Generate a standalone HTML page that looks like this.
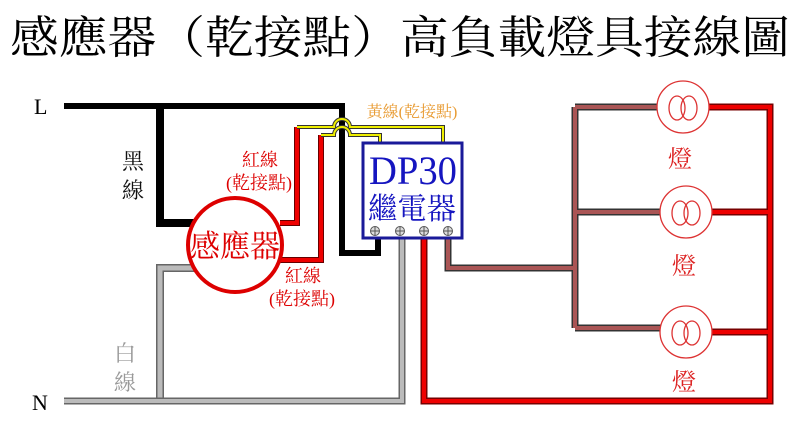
<!DOCTYPE html>
<html><head><meta charset="utf-8"><style>
html,body{margin:0;padding:0;background:#fff;}
svg{display:block;}
text{font-family:"Liberation Serif","Noto Serif CJK SC","Noto Sans CJK TC",serif;}
</style></head><body>
<svg width="800" height="424" viewBox="0 0 800 424" xmlns="http://www.w3.org/2000/svg">
<rect width="800" height="424" fill="#fff"/>
<text x="400" y="53" font-size="45" text-anchor="middle" textLength="780" lengthAdjust="spacingAndGlyphs" fill="#000">感應器（乾接點）高負載燈具接線圖</text>

<text x="34" y="114" font-size="22" fill="#000">L</text>
<text x="32" y="410" font-size="22" fill="#000">N</text>

<g fill="none" stroke-linejoin="miter">
<path d="M195,268 H160 V401" stroke="#666" stroke-width="8"/>
<path d="M195,268 H160 V401" stroke="#bbb" stroke-width="5"/>
<path d="M64,401 H402 V238" stroke="#666" stroke-width="7"/>
<path d="M64,401 H402 V238" stroke="#bbb" stroke-width="4"/>
<path d="M64,106 H342 V253 H378 V238" stroke="#000" stroke-width="6"/>
<path d="M160,106 V223 H200" stroke="#000" stroke-width="8"/>
<path d="M280,223 H297 V127" stroke="#600" stroke-width="6"/>
<path d="M280,223 H297 V127" stroke="#e00" stroke-width="4"/>
<path d="M278,260 H321 V135" stroke="#600" stroke-width="6"/>
<path d="M278,260 H321 V135" stroke="#e00" stroke-width="4"/>
<path d="M297,127 H334 A8,8 0 0 1 350,127 H443 V142" stroke="#333" stroke-width="4"/>
<path d="M297,127 H334 A8,8 0 0 1 350,127 H443 V142" stroke="#ee0" stroke-width="2"/>
<path d="M321,135 H334 A8,8 0 0 1 350,135 H380 V142" stroke="#333" stroke-width="4"/>
<path d="M321,135 H334 A8,8 0 0 1 350,135 H380 V142" stroke="#ee0" stroke-width="2"/>
<path d="M424,238 V401 H770 V107 H708 M770,212 H711 M770,332 H711" stroke="#700" stroke-width="7"/>
<path d="M424,238 V401 H770 V107 H708 M770,212 H711 M770,332 H711" stroke="#e00" stroke-width="4"/>
<path d="M448,238 V268 H575 M575,107 V328 M575,107 H658 M575,212 H661 M575,328 H661" stroke="#333" stroke-width="7"/>
<path d="M448,238 V268 H575 M575,107 V328 M575,107 H658 M575,212 H661 M575,328 H661" stroke="#a55" stroke-width="4"/>
</g>

<circle cx="235" cy="245" r="47" fill="#fff" stroke="#d00" stroke-width="4"/>
<text x="235" y="257" font-size="31" text-anchor="middle" fill="#d00" textLength="90" lengthAdjust="spacingAndGlyphs">感應器</text>

<rect x="363" y="143" width="99" height="95" fill="#fff" stroke="#1a1a99" stroke-width="3"/>
<text x="413" y="184" font-size="40" text-anchor="middle" fill="#1515c0" textLength="88" lengthAdjust="spacingAndGlyphs">DP30</text>
<text x="412" y="219" font-size="30" text-anchor="middle" fill="#1515c0" textLength="88" lengthAdjust="spacingAndGlyphs">繼電器</text>
<g stroke="#555" stroke-width="1" fill="#ddd">
<circle cx="375" cy="231" r="4.5"/><circle cx="400" cy="231" r="4.5"/><circle cx="424" cy="231" r="4.5"/><circle cx="448" cy="231" r="4.5"/>
<path d="M370.5,231h9M375,226.5v9M395.5,231h9M400,226.5v9M419.5,231h9M424,226.5v9M443.5,231h9M448,226.5v9" fill="none"/>
</g>

<g fill="#fff" stroke="#d33" stroke-width="1.3">
<circle cx="683" cy="107" r="26"/>
<ellipse cx="677" cy="108" rx="8" ry="12" fill="none"/><ellipse cx="689" cy="108" rx="8" ry="12" fill="none"/>
<circle cx="686" cy="212" r="26"/>
<ellipse cx="680" cy="213" rx="8" ry="12" fill="none"/><ellipse cx="692" cy="213" rx="8" ry="12" fill="none"/>
<circle cx="686" cy="332" r="26"/>
<ellipse cx="680" cy="333" rx="8" ry="12" fill="none"/><ellipse cx="692" cy="333" rx="8" ry="12" fill="none"/>
</g>
<g font-size="24" fill="#d22" text-anchor="middle">
<text x="680" y="167">燈</text>
<text x="684" y="274">燈</text>
<text x="684" y="390">燈</text>
</g>

<g font-size="22" fill="#111" text-anchor="middle"><text x="133" y="169">黑</text><text x="133" y="198">線</text></g>
<g font-size="22" fill="#999" text-anchor="middle"><text x="125" y="361">白</text><text x="125" y="390">線</text></g>
<g font-size="18" fill="#d00" text-anchor="middle">
<text x="260" y="166">紅線</text><text x="259" y="189">(乾接點)</text>
<text x="303" y="282">紅線</text><text x="302" y="305">(乾接點)</text>
</g>
<text x="412" y="117" font-size="16" fill="#e89a30" text-anchor="middle">黃線(乾接點)</text>
</svg>
</body></html>
